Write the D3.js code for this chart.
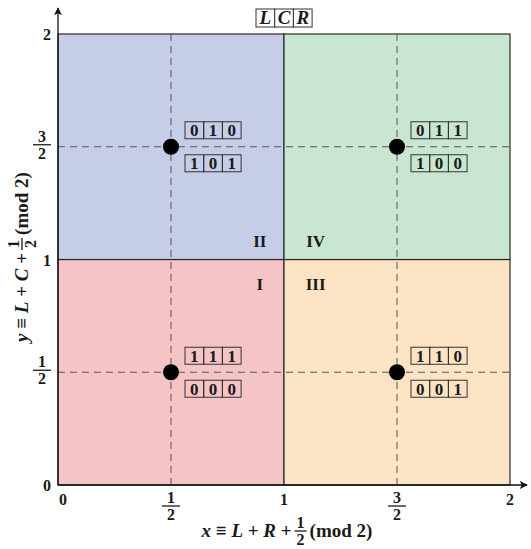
<!DOCTYPE html>
<html><head><meta charset="utf-8">
<script src="https://cdn.jsdelivr.net/npm/d3@7/dist/d3.min.js"></script>
<style>body{margin:0;background:#fff}svg{display:block}text{font-family:"Liberation Serif","DejaVu Serif",serif;font-weight:bold;fill:#1a1a1a}</style>
</head><body>
<svg id="c" width="531" height="549"></svg>
<script>
// Data
const quadrants = [
  {name:"I",   x0:0, x1:1, y0:0, y1:1, color:"#f5c5c6"},
  {name:"II",  x0:0, x1:1, y0:1, y1:2, color:"#c6cde6"},
  {name:"III", x0:1, x1:2, y0:0, y1:1, color:"#fce3c4"},
  {name:"IV",  x0:1, x1:2, y0:1, y1:2, color:"#c9e6d3"}
];
const pointX = [0.5, 1.5, 0.5, 1.5];
const pointY = [1.5, 1.5, 0.5, 0.5];
const codeTop = ["010", "011", "111", "110"];
const codeBottom = ["101", "100", "000", "001"];
const xTicks = [0, 0.5, 1, 1.5, 2];
const yTicks = [0, 0.5, 1, 1.5, 2];
const tickNum = ["0", "1", "1", "3", "2"];
const tickFrac = [false, true, false, true, false];
const headerLetters = ["L", "C", "R"];
const quadLabels = ["II", "IV", "I", "III"];
const quadLabelX = [0.893, 1.14, 0.893, 1.14];
const quadLabelY = [1.08, 1.08, 0.89, 0.89];

const svg = d3.select("#c");
const x = d3.scaleLinear().domain([0,2]).range([58,510]);
const y = d3.scaleLinear().domain([0,2]).range([485,34]);

// Quadrants
svg.selectAll("rect.q").data(quadrants).join("rect")
  .attr("x", d=>x(d.x0)).attr("y", d=>y(d.y1))
  .attr("width", d=>x(d.x1)-x(d.x0)).attr("height", d=>y(d.y0)-y(d.y1))
  .attr("fill", d=>d.color).attr("stroke", "#2a2a2a").attr("stroke-width", 1.2);

// Dashed guide lines
[0.5,1.5].forEach(v=>{
  svg.append("line").attr("x1", x(v)).attr("x2", x(v)).attr("y1", y(2)).attr("y2", y(0))
    .attr("stroke","#555").attr("stroke-width",1).attr("stroke-dasharray","7,5");
  svg.append("line").attr("x1", x(0)).attr("x2", x(2)).attr("y1", y(v)).attr("y2", y(v))
    .attr("stroke","#555").attr("stroke-width",1).attr("stroke-dasharray","7,5");
});

// Axes with arrows
const defs = svg.append("defs");
defs.append("marker").attr("id","arr").attr("viewBox","0 0 10 10").attr("refX",9).attr("refY",5)
  .attr("markerWidth",8).attr("markerHeight",8).attr("markerUnits","userSpaceOnUse").attr("orient","auto-start-reverse")
  .append("path").attr("d","M0,0 L10,5 L0,10 L2.5,5 Z").attr("fill","#111");
svg.append("line").attr("x1",x(0)).attr("x2",x(0)).attr("y1",y(0)).attr("y2",8)
  .attr("stroke","#111").attr("stroke-width",1.3).attr("marker-end","url(#arr)");
svg.append("line").attr("x1",x(0)).attr("x2",527).attr("y1",y(0)).attr("y2",y(0))
  .attr("stroke","#111").attr("stroke-width",1.3).attr("marker-end","url(#arr)");

// Fraction helper (bar centred at cx, cy)
function frac(g, cx, cy, num, den, fs, half){
  g.append("text").attr("x",cx).attr("y",cy-3).attr("text-anchor","middle").attr("font-size",fs).text(num);
  g.append("line").attr("x1",cx-half).attr("x2",cx+half).attr("y1",cy).attr("y2",cy).attr("stroke","#1a1a1a").attr("stroke-width",1.3);
  g.append("text").attr("x",cx).attr("y",cy+3+fs*0.68).attr("text-anchor","middle").attr("font-size",fs).text(den);
}

// X tick labels
const gx = svg.append("g");
xTicks.forEach((t,i)=>{
  const cx = i===0 ? x(t)+5 : x(t);
  if(tickFrac[i]) frac(gx, cx, 506, tickNum[i], "2", 16, 9);
  else gx.append("text").attr("x",cx).attr("y",505).attr("text-anchor","middle").attr("font-size",16).text(tickNum[i]);
});
// Y tick labels
const gy = svg.append("g");
yTicks.forEach((t,i)=>{
  if(tickFrac[i]) frac(gy, 42, y(t)-2, tickNum[i], "2", 16, 9);
  else gy.append("text").attr("x",47).attr("y",y(t)+6).attr("text-anchor","middle").attr("font-size",16).text(tickNum[i]);
});

// Axis title builder: text, fraction 1/2, text; centred at (cx, baseline)
function mathTitle(g, cx, base, leftHtml, rightText, fs, ffs){
  const t1 = g.append("text").attr("y",base).attr("font-size",fs).html(leftHtml);
  const t2 = g.append("text").attr("y",base).attr("font-size",fs).text(rightText);
  const w1 = t1.node().getComputedTextLength();
  const w2 = t2.node().getComputedTextLength();
  const fw = 12, gap = 3;
  const total = w1 + gap + fw + gap + w2;
  const x0 = cx - total/2;
  t1.attr("x", x0);
  frac(g, x0 + w1 + gap + fw/2, base-6, "1", "2", ffs, 6);
  t2.attr("x", x0 + w1 + gap + fw + gap);
}
mathTitle(svg.append("g"), 287, 537,
  '<tspan font-style="italic">x</tspan> ≡ <tspan font-style="italic">L</tspan> + <tspan font-style="italic">R</tspan> +',
  "(mod 2)", 19, 16);
mathTitle(svg.append("g").attr("transform","translate(28,257) rotate(-90)"), 0, 0,
  '<tspan font-style="italic">y</tspan> ≡ <tspan font-style="italic">L</tspan> + <tspan font-style="italic">C</tspan> +',
  "(mod 2)", 19, 16);

// Quadrant labels
svg.selectAll("text.ql").data(quadLabels).join("text").attr("class","ql")
  .attr("x",(d,i)=>x(quadLabelX[i])).attr("y",(d,i)=>y(quadLabelY[i])+6)
  .attr("text-anchor","middle").attr("font-size",17).text(d=>d);

// Bit boxes
function bitBox(g, left, top, chars, italic, cw, ch, fs){
  chars.forEach((c,i)=>{
    g.append("rect").attr("x",left+i*cw).attr("y",top).attr("width",cw).attr("height",ch)
      .attr("fill", italic? "#fff":"none").attr("stroke","#333").attr("stroke-width",1);
    g.append("text").attr("x",left+i*cw+cw/2).attr("y",top+ch/2+fs*0.34).attr("text-anchor","middle")
      .attr("font-size",fs).attr("font-style",italic?"italic":"normal").text(c);
  });
}
const gb = svg.append("g");
pointX.forEach((px,i)=>{
  const cx = x(px), cy = y(pointY[i]);
  bitBox(gb, cx+14, cy-25, codeTop[i].split(""), false, 18.7, 17, 17);
  bitBox(gb, cx+14, cy+8, codeBottom[i].split(""), false, 18.7, 17, 17);
  gb.append("circle").attr("cx",cx).attr("cy",cy).attr("r",8).attr("fill","#000");
});

// Header LCR
bitBox(svg.append("g"), x(1)-28, 9, headerLetters, true, 18.7, 18, 19);
</script>
</body></html>
